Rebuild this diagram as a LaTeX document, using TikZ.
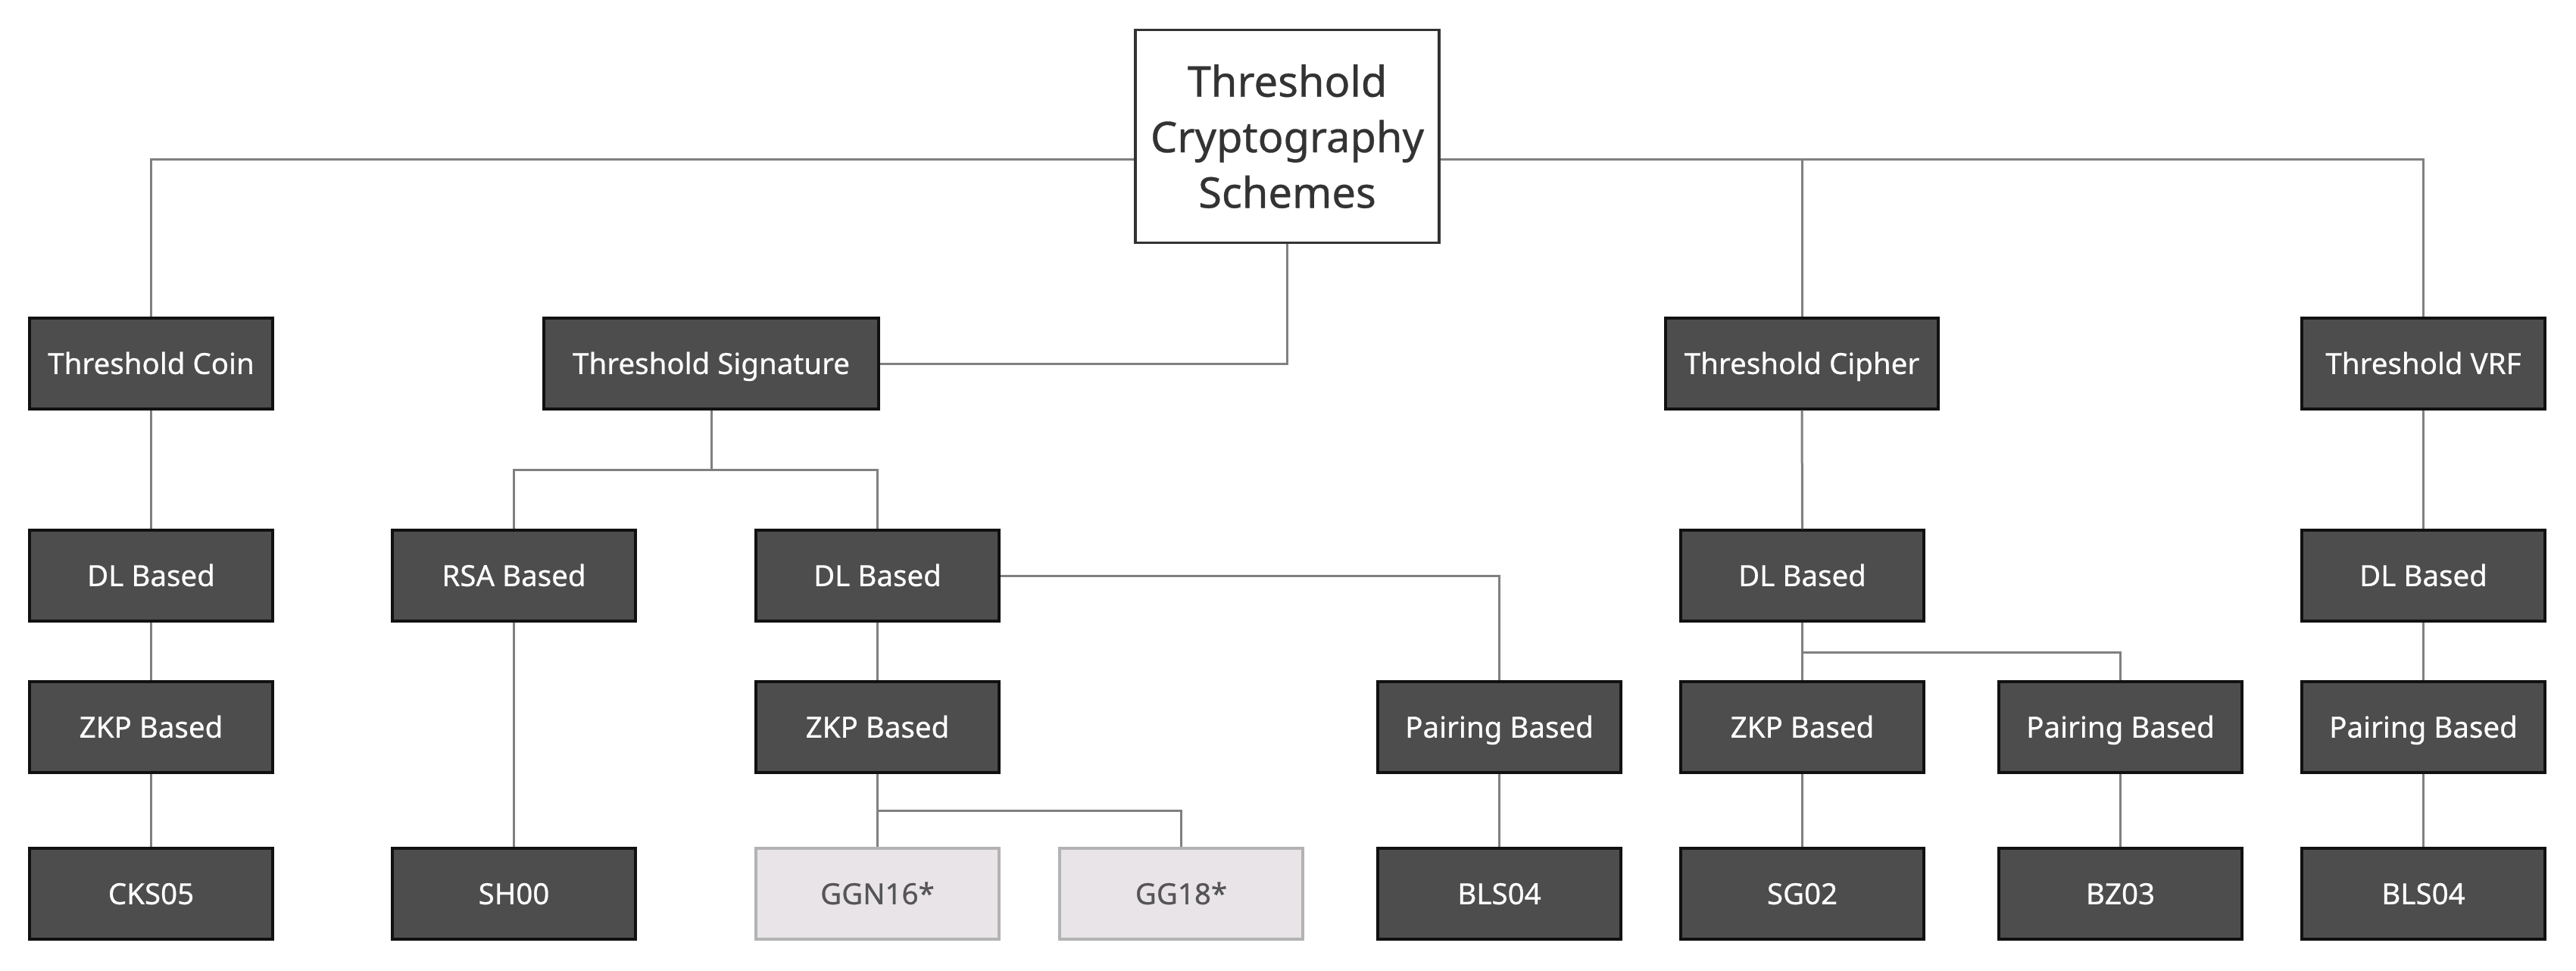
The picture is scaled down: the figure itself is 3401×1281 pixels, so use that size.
\documentclass[tikz,border=0pt]{standalone}
\usepackage{fontspec}
\setmainfont[FakeBold=0.6]{Noto Sans}
\definecolor{boxdark}{HTML}{4D4D4D}
\definecolor{boxedge}{HTML}{111111}
\definecolor{wire}{HTML}{808080}
\definecolor{boxpale}{HTML}{E8E4E8}
\definecolor{paleedge}{HTML}{B3B3B3}
\definecolor{paletext}{HTML}{555555}
\definecolor{roottext}{HTML}{333333}
\tikzset{
  darkbox/.style={draw=boxedge, fill=boxdark, text=white, line width=1pt,
    minimum width=96.3pt, minimum height=36pt, inner sep=0pt,
    text height=8.3pt, text depth=0pt,
    font=\fontsize{11.55}{14}\selectfont\bfseries},
  palebox/.style={darkbox, draw=paleedge, fill=boxpale, text=paletext},
  rootbox/.style={draw=roottext, fill=white, text=roottext, line width=1pt,
    minimum width=120.3pt, minimum height=84.3pt, inner sep=0pt, align=center,
    font=\fontsize{16.8}{22}\selectfont\bfseries},
  wireline/.style={draw=wire, line width=0.9pt}
}
\begin{document}
\begin{tikzpicture}[x=0.3pt,y=0.3pt,yscale=-1,xscale=1]
\useasboundingbox (0,0) rectangle (3401,1281);

%Root
\draw (1699.5,180) node [rootbox] (root) {Threshold\\Cryptography\\Schemes};

%Level 1
\draw (199.5,480) node [darkbox] (coin) {Threshold Coin};
\draw (939,480) node [darkbox, minimum width=132.6pt] (sig) {Threshold Signature};
\draw (2379,480) node [darkbox, minimum width=108pt] (cipher) {Threshold Cipher};
\draw (3199.5,480) node [darkbox] (vrf) {Threshold VRF};

%Level 2
\draw (199.5,760) node [darkbox] (dlcoin) {DL Based};
\draw (678.5,760) node [darkbox] (rsasig) {RSA Based};
\draw (1158.5,760) node [darkbox] (dlsig) {DL Based};
\draw (2379.5,760) node [darkbox] (dlcip) {DL Based};
\draw (3199.5,760) node [darkbox] (dlvrf) {DL Based};

%Level 3
\draw (199.5,960) node [darkbox] (zkpcoin) {ZKP Based};
\draw (1158.5,960) node [darkbox] (zkpsig) {ZKP Based};
\draw (1979.5,960) node [darkbox] (pairsig) {Pairing Based};
\draw (2379.5,960) node [darkbox] (zkpcip) {ZKP Based};
\draw (2799.5,960) node [darkbox] (paircip) {Pairing Based};
\draw (3199.5,960) node [darkbox] (pairvrf) {Pairing Based};

%Level 4
\draw (199.5,1180) node [darkbox] (cks) {CKS05};
\draw (678.5,1180) node [darkbox] (sh) {SH00};
\draw (1158.5,1180) node [palebox] (ggn) {GGN16*};
\draw (1559.5,1180) node [palebox] (gg) {GG18*};
\draw (1979.5,1180) node [darkbox] (blssig) {BLS04};
\draw (2379.5,1180) node [darkbox] (sg) {SG02};
\draw (2799.5,1180) node [darkbox] (bz) {BZ03};
\draw (3199.5,1180) node [darkbox] (blsvrf) {BLS04};

%Bus points
\coordinate (busL) at (199.5,210);
\coordinate (busR) at (3199.5,210);
\coordinate (sigbus) at (939,620);
\coordinate (zkpbus) at (1158.5,1070);
\coordinate (cipbus) at (2379.5,861);

%Connectors
\draw [wireline] (root.west |- busL) -- (busL) -- (coin.north);
\draw [wireline] (root.east |- busR) -- (busR) -- (vrf.north);
\draw [wireline] (cipher.north) -- (cipher.north |- busR);
\draw [wireline] (root.south) |- (sig.east);

\draw [wireline] (coin.south) -- (dlcoin.north);
\draw [wireline] (dlcoin.south) -- (zkpcoin.north);
\draw [wireline] (zkpcoin.south) -- (cks.north);

\draw [wireline] (sig.south) -- (sigbus);
\draw [wireline] (rsasig.north) |- (sigbus) -| (dlsig.north);
\draw [wireline] (rsasig.south) -- (sh.north);
\draw [wireline] (dlsig.east) -| (pairsig.north);
\draw [wireline] (dlsig.south) -- (zkpsig.north);
\draw [wireline] (zkpsig.south) -- (ggn.north);
\draw [wireline] (zkpbus) -| (gg.north);
\draw [wireline] (pairsig.south) -- (blssig.north);

\draw [wireline] (cipher.south) -- (dlcip.north);
\draw [wireline] (dlcip.south) -- (zkpcip.north);
\draw [wireline] (cipbus) -| (paircip.north);
\draw [wireline] (zkpcip.south) -- (sg.north);
\draw [wireline] (paircip.south) -- (bz.north);

\draw [wireline] (vrf.south) -- (dlvrf.north);
\draw [wireline] (dlvrf.south) -- (pairvrf.north);
\draw [wireline] (pairvrf.south) -- (blsvrf.north);

\end{tikzpicture}
\end{document}
